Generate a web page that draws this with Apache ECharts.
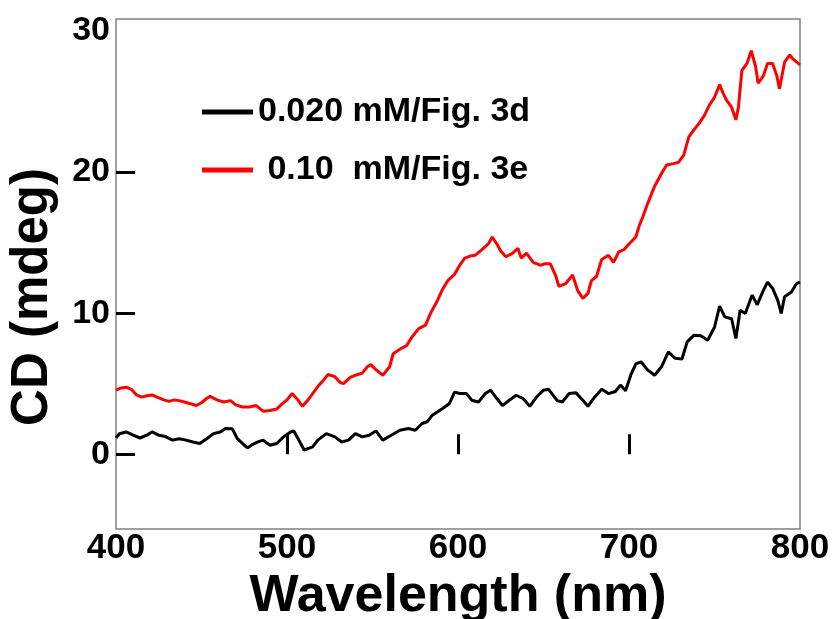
<!DOCTYPE html>
<html>
<head>
<meta charset="utf-8">
<script src="https://cdn.jsdelivr.net/npm/echarts@6/dist/echarts.min.js"></script>
<style>
html,body{margin:0;padding:0;background:#fff;}
#chart{width:835px;height:619px;}
</style>
</head>
<body>
<div id="chart"></div>
<script>
// Series names
const seriesNames = ['0.020 mM/Fig. 3d', ' 0.10  mM/Fig. 3e'];

// 0.10 mM (red) wavelengths (nm) and CD (mdeg)
const redX = [400,403,406,409,412,415,418,421,424,428,431,434,437,440,443,447,450,453,455,459,463,467,470,474,478,482,486,490,494,497,500,503,506,509,512,515,518,521,524,528,531,533,537,540,544,547,549,552,556,560,562,566,570,573,577,581,584,588,591,594,598,601,604,607,610,614,618,620,623,625,628,632,635,637,640,644,648,651,654,657,659,663,667,670,673,676,678,681,684,688,691,694,697,700,704,706,708,711,715,719,722,726,729,732,735,738,741,744,747,750,753,755,757,760,762.5,764,766,769,771.5,774,775.5,778.5,781,784,786.5,788,791,794,796,799,800];
const redY = [4.55,4.7,4.75,4.6,4.2,4.05,4.15,4.2,4.05,3.85,3.75,3.85,3.8,3.7,3.6,3.45,3.65,3.95,4.1,3.85,3.7,3.8,3.5,3.35,3.35,3.45,3.05,3.1,3.2,3.55,3.85,4.3,3.9,3.4,3.8,4.3,4.8,5.2,5.65,5.5,5.1,5.0,5.45,5.6,5.75,6.2,6.35,6.0,5.6,6.2,7.1,7.45,7.7,8.3,8.9,9.15,10.0,10.9,11.7,12.3,12.75,13.4,13.9,14.05,14.1,14.5,14.95,15.4,14.85,14.4,14.0,14.25,14.6,13.9,14.25,13.6,13.4,13.5,13.5,12.7,11.9,12.1,12.7,11.6,11.05,11.4,12.3,12.6,13.8,14.1,13.6,14.35,14.5,14.9,15.4,16.2,16.8,17.8,19.0,19.9,20.5,20.6,20.7,21.2,22.5,23.0,23.45,24.0,24.75,25.3,26.2,25.6,25.1,24.6,23.7,24.6,27.2,27.7,28.6,27.5,26.3,26.8,27.7,27.7,26.8,25.9,27.8,28.3,28.0,27.7,27.6];

// 0.020 mM (black) wavelengths (nm) and CD (mdeg)
const blackX = [400,402,406,410,414,418,421,425,429,433,437,441,445,449,453,457,461,464,468,471,475,477,480,483,486,490,494,498,502,504,508,510,515,518,523,528,532,536,540,544,548,552,556,561,566,571,575,579,582,585,591,595,598,601,605,608,612,616,619,622,626,630,634,638,642,646,650,653,658,661,665,669,673,676,680,684,688,692,695,698,701,704,707,711,715,719,723,727,731,734,738,742,746,750,753,756,760,762.5,765,768,772,775,778.5,781,784,787,789,791,795,798,800];
const blackY = [1.15,1.45,1.58,1.35,1.15,1.35,1.58,1.35,1.25,1.0,1.1,1.0,0.87,0.76,1.1,1.46,1.58,1.82,1.8,1.1,0.64,0.45,0.7,0.87,1.0,0.64,0.76,1.23,1.58,1.65,0.76,0.3,0.52,1.0,1.46,1.23,0.87,1.0,1.46,1.23,1.35,1.65,1.0,1.35,1.7,1.82,1.7,2.18,2.3,2.77,3.24,3.6,4.4,4.3,4.3,3.83,3.7,4.3,4.54,4.06,3.45,3.83,4.18,3.95,3.4,4.06,4.54,4.6,3.8,3.7,4.3,4.35,3.83,3.4,4.06,4.6,4.3,4.45,4.9,4.5,5.6,6.4,6.55,5.96,5.6,6.2,7.25,6.8,6.75,7.96,8.44,8.4,8.08,9.0,10.5,9.74,9.6,8.2,10.2,9.98,11.28,10.6,11.6,12.2,11.75,10.9,9.98,11.16,11.5,12.1,12.2];

// Axis tick values
const xTickLabels = [400,500,600,700,800];
const xTickMarks = [500,600,700];
const yTickLabels = [0,10,20,30];
const yTickMarks = [0,10,20];

function pairs(xs, ys){ return xs.map((x,i)=>[x, ys[i]]); }

const FONT = '"Liberation Sans", Arial, sans-serif';
const chart = echarts.init(document.getElementById('chart'), null, {renderer:'canvas'});
chart.setOption({
  animation: false,
  backgroundColor: '#fff',
  grid: {left:116, top:19, right:35, bottom:90, containLabel:false, outerBoundsMode:'none',
         show:true, borderColor:'#808080', borderWidth:1.5, backgroundColor:'transparent'},
  legend: {
    orient:'vertical', left:202, top:92, padding:0, itemWidth:51, itemHeight:5, itemGap:18,
    icon:'rect',
    data: seriesNames,
    textStyle:{fontFamily:FONT, fontWeight:'bold', fontSize:34, color:'#000', lineHeight:40}
  },
  xAxis: {
    type:'value', min:400, max:800, interval:100,
    name:'Wavelength (nm)', nameLocation:'middle', nameGap:36,
    nameTextStyle:{fontFamily:FONT, fontWeight:'bold', fontSize:52, color:'#000'},
    axisLine:{show:false},
    axisTick:{show:true, inside:true, length:20, lineStyle:{color:'#000', width:3}, customValues:xTickMarks},
    axisLabel:{fontFamily:FONT, fontWeight:'bold', fontSize:35, color:'#000', margin:2, customValues:xTickLabels},
    splitLine:{show:false}
  },
  yAxis: {
    type:'value', min:-5.3, max:30.85,
    name:'CD (mdeg)', nameLocation:'middle', nameGap:58, nameRotate:90,
    nameTextStyle:{fontFamily:FONT, fontWeight:'bold', fontSize:51, color:'#000', padding:[0,46,0,0]},
    axisLine:{show:false},
    axisTick:{show:true, inside:true, length:19, lineStyle:{color:'#000', width:3}, customValues:yTickMarks},
    axisLabel:{fontFamily:FONT, fontWeight:'bold', fontSize:34, color:'#000', margin:6, customValues:yTickLabels},
    splitLine:{show:false}
  },
  series: [
    {name:seriesNames[0], type:'line', data:pairs(blackX, blackY), showSymbol:false, symbol:'none',
     color:'#000', lineStyle:{color:'#000', width:3}},
    {name:seriesNames[1], type:'line', data:pairs(redX, redY), showSymbol:false, symbol:'none',
     color:'#ff0000', lineStyle:{color:'#ff0000', width:3}}
  ]
});
</script>
</body>
</html>
